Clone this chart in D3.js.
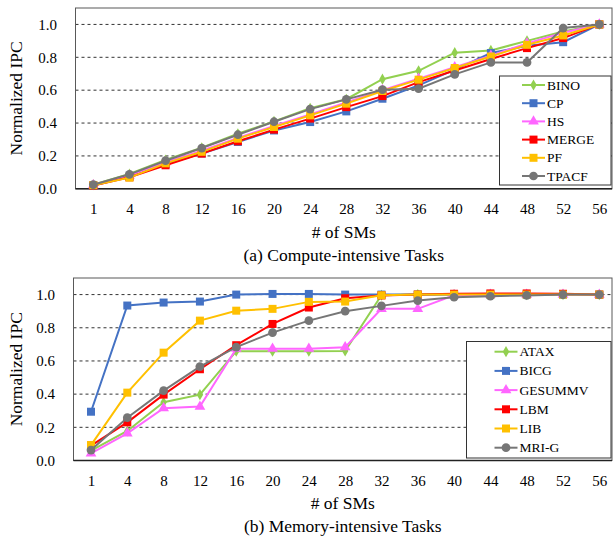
<!DOCTYPE html>
<html>
<head>
<meta charset="utf-8">
<script src="https://cdn.jsdelivr.net/npm/d3@7"></script>
<style>
  body { margin: 0; background: #fff; }
  svg text { font-family: "Liberation Serif", "Times New Roman", serif; fill: #000; }
</style>
</head>
<body>
<svg id="chart" width="613" height="536"></svg>
<script>
// x categories (# of SMs) and y ticks
var smCounts = ["1", "4", "8", "12", "16", "20", "24", "28", "32", "36", "40", "44", "48", "52", "56"];
var yTicks = [0, 0.2, 0.4, 0.6, 0.8, 1.0];

// (a) compute-intensive
var bino  = [0.025, 0.09, 0.175, 0.25, 0.335, 0.41, 0.49, 0.545, 0.667, 0.718, 0.828, 0.842, 0.90, 0.957, 1.0];
var cp    = [0.02, 0.075, 0.15, 0.215, 0.285, 0.355, 0.406, 0.471, 0.548, 0.629, 0.725, 0.826, 0.87, 0.892, 1.0];
var hs    = [0.022, 0.08, 0.162, 0.232, 0.31, 0.382, 0.452, 0.525, 0.60, 0.67, 0.74, 0.81, 0.885, 0.95, 1.0];
var merge = [0.02, 0.07, 0.143, 0.214, 0.289, 0.36, 0.427, 0.497, 0.564, 0.649, 0.72, 0.79, 0.856, 0.917, 1.0];
var pf    = [0.022, 0.068, 0.155, 0.225, 0.305, 0.376, 0.447, 0.518, 0.595, 0.664, 0.735, 0.805, 0.876, 0.933, 1.0];
var tpacf = [0.025, 0.088, 0.171, 0.248, 0.329, 0.408, 0.485, 0.544, 0.603, 0.609, 0.696, 0.769, 0.769, 0.978, 1.0];

// (b) memory-intensive
var atax    = [0.06, 0.178, 0.351, 0.397, 0.659, 0.659, 0.659, 0.66, 0.996, 1.0, 1.0, 1.0, 1.0, 1.0, 1.0];
var bicg    = [0.294, 0.934, 0.952, 0.958, 1.0, 1.004, 1.004, 1.0, 1.0, 1.0, 1.0, 1.0, 1.0, 1.0, 1.0];
var gesummv = [0.043, 0.164, 0.315, 0.325, 0.674, 0.674, 0.674, 0.683, 0.914, 0.914, 0.996, 1.0, 1.0, 1.0, 1.0];
var lbm     = [0.09, 0.23, 0.397, 0.55, 0.695, 0.823, 0.922, 0.978, 0.995, 1.0, 1.005, 1.007, 1.007, 1.005, 1.0];
var lib     = [0.093, 0.409, 0.65, 0.843, 0.903, 0.914, 0.956, 0.958, 0.996, 1.0, 1.0, 1.0, 1.0, 1.0, 1.0];
var mriG    = [0.063, 0.258, 0.421, 0.566, 0.683, 0.771, 0.843, 0.90, 0.932, 0.964, 0.984, 0.99, 0.995, 1.0, 1.0];

var colors = { green: "#92D050", blue: "#4472C4", pink: "#FF66FF", red: "#FF0000", yellow: "#FFC000", gray: "#767676" };

var computeSeries = [
  { name: "BINO",  values: bino,  color: colors.green,  shape: "diamond" },
  { name: "CP",    values: cp,    color: colors.blue,   shape: "square" },
  { name: "HS",    values: hs,    color: colors.pink,   shape: "triangle" },
  { name: "MERGE", values: merge, color: colors.red,    shape: "square" },
  { name: "PF",    values: pf,    color: colors.yellow, shape: "square" },
  { name: "TPACF", values: tpacf, color: colors.gray,   shape: "circle" }
];
var memorySeries = [
  { name: "ATAX",    values: atax,    color: colors.green,  shape: "diamond" },
  { name: "BICG",    values: bicg,    color: colors.blue,   shape: "square" },
  { name: "GESUMMV", values: gesummv, color: colors.pink,   shape: "triangle" },
  { name: "LBM",     values: lbm,     color: colors.red,    shape: "square" },
  { name: "LIB",     values: lib,     color: colors.yellow, shape: "square" },
  { name: "MRI-G",   values: mriG,    color: colors.gray,   shape: "circle" }
];

var svg = d3.select("#chart");

function symbolFor(shape) {
  if (shape === "diamond") return d3.symbol().type(d3.symbolDiamond).size(36);
  if (shape === "square") return d3.symbol().type(d3.symbolSquare).size(64);
  if (shape === "triangle") return d3.symbol().type(d3.symbolTriangle).size(50);
  return d3.symbol().type(d3.symbolCircle).size(60);
}

function drawPanel(cfg) {
  var x = d3.scalePoint().domain(smCounts).range([cfg.firstX, cfg.lastX]);
  var y = d3.scaleLinear().domain([0, 1.1]).range([cfg.bottom, cfg.top]);

  var g = svg.append("g");

  // dashed grid
  g.selectAll(".grid").data(yTicks.filter(function (d) { return d > 0; }))
    .enter().append("line")
    .attr("x1", cfg.left).attr("x2", cfg.right)
    .attr("y1", function (d) { return y(d); }).attr("y2", function (d) { return y(d); })
    .attr("stroke", "#333").attr("stroke-width", 1).attr("stroke-dasharray", "3,3");

  // frame
  g.append("rect")
    .attr("x", cfg.left).attr("y", cfg.top)
    .attr("width", cfg.right - cfg.left).attr("height", cfg.bottom - cfg.top)
    .attr("fill", "none").attr("stroke", "#595959").attr("stroke-width", 1);
  g.append("line")
    .attr("x1", cfg.left).attr("x2", cfg.right)
    .attr("y1", cfg.bottom).attr("y2", cfg.bottom)
    .attr("stroke", "#222").attr("stroke-width", 1.5);

  // y axis
  var yAxis = d3.axisLeft(y).tickValues(yTicks).tickFormat(d3.format(".1f")).tickSize(0).tickPadding(cfg.left - cfg.yLabelX);
  var ya = g.append("g").attr("transform", "translate(" + cfg.left + ",0)").call(yAxis);
  ya.select(".domain").remove();
  ya.selectAll("text").attr("font-size", "15px").attr("font-family", "Liberation Serif");

  // x axis
  var xAxis = d3.axisBottom(x).tickSize(0).tickPadding(0);
  var xa = g.append("g").attr("transform", "translate(0," + cfg.bottom + ")").call(xAxis);
  xa.select(".domain").remove();
  xa.selectAll("text").attr("dy", null).attr("y", cfg.xLabelY - cfg.bottom)
    .attr("font-size", "15px").attr("font-family", "Liberation Serif");

  // titles
  g.append("text")
    .attr("transform", "translate(22," + ((cfg.top + cfg.bottom) / 2) + ") rotate(-90)")
    .attr("text-anchor", "middle").attr("font-size", "17.5px")
    .text("Normalized IPC");
  g.append("text")
    .attr("x", (cfg.left + cfg.right) / 2).attr("y", cfg.xTitleY)
    .attr("text-anchor", "middle").attr("font-size", "17.5px")
    .text("# of SMs");
  g.append("text")
    .attr("x", (cfg.left + cfg.right) / 2).attr("y", cfg.captionY)
    .attr("text-anchor", "middle").attr("font-size", "17.5px")
    .text(cfg.caption);

  // series
  var line = d3.line()
    .x(function (d, i) { return x(smCounts[i]); })
    .y(function (d) { return y(d); });

  cfg.series.forEach(function (s) {
    var sg = g.append("g");
    sg.append("path").datum(s.values)
      .attr("d", line).attr("fill", "none")
      .attr("stroke", s.color).attr("stroke-width", 2);
    sg.selectAll("path.mk").data(s.values).enter().append("path")
      .attr("class", "mk")
      .attr("d", symbolFor(s.shape))
      .attr("transform", function (d, i) { return "translate(" + x(smCounts[i]) + "," + y(d) + ")"; })
      .attr("fill", s.color);
  });

  // legend
  var lg = g.append("g");
  lg.append("rect")
    .attr("x", cfg.legend.x).attr("y", cfg.legend.y)
    .attr("width", cfg.right - 1 - cfg.legend.x).attr("height", cfg.legend.h)
    .attr("fill", "#fff").attr("stroke", "#333").attr("stroke-width", 1);
  cfg.series.forEach(function (s, i) {
    var cy = cfg.legend.firstY + i * cfg.legend.step;
    var lx = cfg.legend.lineX;
    lg.append("line")
      .attr("x1", lx).attr("x2", lx + 23).attr("y1", cy).attr("y2", cy)
      .attr("stroke", s.color).attr("stroke-width", 2);
    lg.append("path")
      .attr("d", symbolFor(s.shape))
      .attr("transform", "translate(" + (lx + 11.5) + "," + cy + ")")
      .attr("fill", s.color);
    lg.append("text")
      .attr("x", lx + 25).attr("y", cy + 4.5)
      .attr("font-size", "13.5px")
      .text(s.name);
  });
}

drawPanel({
  series: computeSeries,
  caption: "(a) Compute-intensive Tasks",
  left: 75.5, right: 612, top: 8, bottom: 188.8,
  firstX: 93.3, lastX: 599.3,
  yLabelX: 57, xLabelY: 214, xTitleY: 238, captionY: 261,
  legend: { x: 499.5, y: 76, h: 109, firstY: 85, step: 18.2, lineX: 522 }
});

drawPanel({
  series: memorySeries,
  caption: "(b) Memory-intensive Tasks",
  left: 73.5, right: 612, top: 278, bottom: 460.5,
  firstX: 91, lastX: 599.3,
  yLabelX: 55, xLabelY: 485.5, xTitleY: 509, captionY: 532,
  legend: { x: 466.5, y: 341.5, h: 116.5, firstY: 351.7, step: 19.2, lineX: 494.5 }
});
</script>
</body>
</html>
